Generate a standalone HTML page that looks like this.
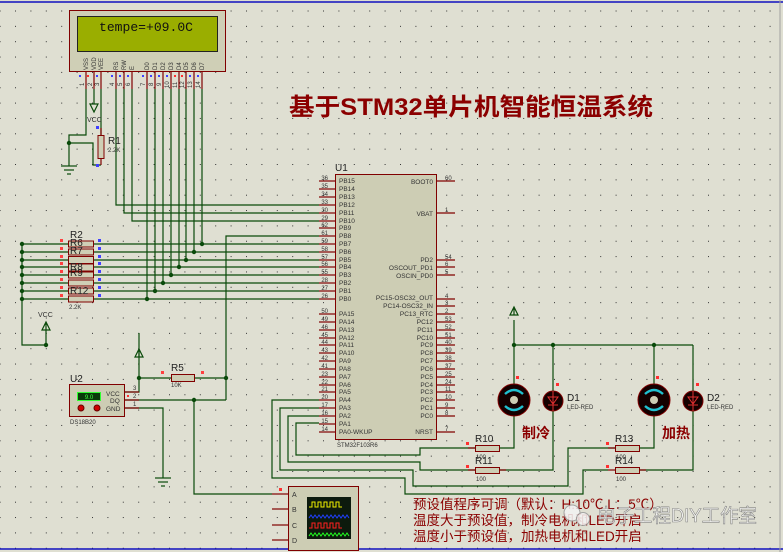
<!DOCTYPE html>
<html><head><meta charset="utf-8"><style>
html,body{margin:0;padding:0;background:#dfdfd2;}
svg{display:block;}
text{font-family:"Liberation Sans","Noto Sans CJK SC",sans-serif;}
</style></head><body>
<svg width="783" height="552" viewBox="0 0 783 552" xmlns="http://www.w3.org/2000/svg">
<defs>
<pattern id="dots" x="0" y="0" width="15.4" height="15.35" patternUnits="userSpaceOnUse" patternTransform="translate(15,10.5)">
<rect x="0" y="0" width="1" height="1" fill="#333"/>
</pattern>
</defs>
<rect width="783" height="552" fill="#dfdfd2"/>
<rect width="783" height="552" fill="url(#dots)"/>
<line x1="0" y1="2" x2="783" y2="2" stroke="#1010c0" stroke-width="1.5"/>
<line x1="0" y1="549" x2="783" y2="549" stroke="#1010c0" stroke-width="1.5"/>
<line x1="780" y1="0" x2="780" y2="552" stroke="#a0a0a0" stroke-width="1"/>

<!-- Title -->
<text x="289" y="115" font-size="24" font-weight="bold" fill="#8b0000" textLength="364" lengthAdjust="spacingAndGlyphs">基于STM32单片机智能恒温系统</text>

<!-- LCD -->
<rect x="69.5" y="10.5" width="156" height="61" fill="#cfcfb6" stroke="#800000"/>
<rect x="77.5" y="16.5" width="140" height="35" fill="#9aae00" stroke="#222"/>
<text x="99" y="31" style="font-family:'Liberation Mono',monospace" font-size="13" fill="#111" textLength="94" lengthAdjust="spacingAndGlyphs">tempe=+09.0C</text>
<g font-size="6" fill="#333" font-family="Liberation Sans,sans-serif">
<text transform="translate(88,70) rotate(-90)">VSS</text>
<text transform="translate(96,70) rotate(-90)">VDD</text>
<text transform="translate(103,70) rotate(-90)">VEE</text>
<text transform="translate(118,70) rotate(-90)">RS</text>
<text transform="translate(126,70) rotate(-90)">RW</text>
<text transform="translate(134,70) rotate(-90)">E</text>
<text transform="translate(149,70) rotate(-90)">D0</text>
<text transform="translate(157,70) rotate(-90)">D1</text>
<text transform="translate(165,70) rotate(-90)">D2</text>
<text transform="translate(173,70) rotate(-90)">D3</text>
<text transform="translate(181,70) rotate(-90)">D4</text>
<text transform="translate(188,70) rotate(-90)">D5</text>
<text transform="translate(196,70) rotate(-90)">D6</text>
<text transform="translate(204,70) rotate(-90)">D7</text>
<text transform="translate(84,86) rotate(-90)">1</text>
<text transform="translate(92,86) rotate(-90)">2</text>
<text transform="translate(99,86) rotate(-90)">3</text>
<text transform="translate(114,86) rotate(-90)">4</text>
<text transform="translate(122,86) rotate(-90)">5</text>
<text transform="translate(130,86) rotate(-90)">6</text>
<text transform="translate(145,86) rotate(-90)">7</text>
<text transform="translate(153,86) rotate(-90)">8</text>
<text transform="translate(161,86) rotate(-90)">9</text>
<text transform="translate(169,88) rotate(-90)">10</text>
<text transform="translate(177,88) rotate(-90)">11</text>
<text transform="translate(184,88) rotate(-90)">12</text>
<text transform="translate(192,88) rotate(-90)">13</text>
<text transform="translate(200,88) rotate(-90)">14</text>
</g>
<g stroke="#800000" stroke-width="1.2">
<line x1="86" y1="72" x2="86" y2="89"/><line x1="94" y1="72" x2="94" y2="89"/><line x1="101" y1="72" x2="101" y2="89"/>
<line x1="116" y1="72" x2="116" y2="89"/><line x1="124" y1="72" x2="124" y2="89"/><line x1="132" y1="72" x2="132" y2="89"/>
<line x1="147" y1="72" x2="147" y2="89"/><line x1="155" y1="72" x2="155" y2="89"/><line x1="163" y1="72" x2="163" y2="89"/>
<line x1="171" y1="72" x2="171" y2="89"/><line x1="179" y1="72" x2="179" y2="89"/><line x1="186" y1="72" x2="186" y2="89"/>
<line x1="194" y1="72" x2="194" y2="89"/><line x1="202" y1="72" x2="202" y2="89"/>
</g>
<g fill="#4040ff"><rect x="79" y="75" width="2" height="2"/><rect x="96" y="75" width="2" height="2"/><rect x="111" y="75" width="2" height="2"/><rect x="119" y="75" width="2" height="2"/><rect x="127" y="75" width="2" height="2"/><rect x="142" y="75" width="2" height="2"/><rect x="150" y="75" width="2" height="2"/><rect x="158" y="75" width="2" height="2"/><rect x="166" y="75" width="2" height="2"/><rect x="189" y="75" width="2" height="2"/><rect x="197" y="75" width="2" height="2"/></g>
<g fill="#ff3030"><rect x="87" y="75" width="2" height="2"/><rect x="174" y="75" width="2" height="2"/><rect x="181" y="75" width="2" height="2"/></g>

<!-- wires -->
<g stroke="#0a4a0a" stroke-width="1.2" fill="none">
<polyline points="86,89 86,135 69,135 69,166"/>
<polyline points="69,143 93,143 93,165 101,165"/>
<polyline points="94,89 94,104"/>
<polyline points="101,89 101,135"/>
<polyline points="116,89 116,205 319,205"/>
<polyline points="124,89 124,213 319,213"/>
<polyline points="132,89 132,221 319,221"/>
<polyline points="147,89 147,299"/>
<polyline points="155,89 155,291"/>
<polyline points="163,89 163,283"/>
<polyline points="171,89 171,275"/>
<polyline points="179,89 179,267"/>
<polyline points="186,89 186,260"/>
<polyline points="194,89 194,252"/>
<polyline points="202,89 202,244"/>
<line x1="22" y1="244" x2="319" y2="244"/>
<line x1="22" y1="252" x2="319" y2="252"/>
<line x1="22" y1="260" x2="319" y2="260"/>
<line x1="22" y1="267" x2="319" y2="267"/>
<line x1="22" y1="275" x2="319" y2="275"/>
<line x1="22" y1="283" x2="319" y2="283"/>
<line x1="22" y1="291" x2="319" y2="291"/>
<line x1="22" y1="299" x2="319" y2="299"/>
<polyline points="22,244 22,345 46,345 46,330"/>
<polyline points="319,236 226,236 226,400"/>
<polyline points="139,333 139,392 125,392"/>
<line x1="139" y1="378" x2="171" y2="378"/>
<line x1="195" y1="378" x2="226" y2="378"/>
<polyline points="125,400 226,400"/>
<polyline points="194,400 194,494 272,494"/>
<polyline points="125,408 163,408 163,478"/>
<polyline points="319,400 272,400 272,478 405,478 405,494 583,494 583,470 608,470"/>
<polyline points="319,408 280,408 280,470 413,470 413,486 568,486 568,448 615,448"/>
<polyline points="319,416 288,416 288,462 420,462 420,470 475,470"/>
<polyline points="319,423 296,423 296,455 420,455 420,448 475,448"/>
<polyline points="514,320 514,345 693,345"/>
<line x1="514" y1="345" x2="514" y2="384"/>
<line x1="553" y1="345" x2="553" y2="391"/>
<line x1="654" y1="345" x2="654" y2="384"/>
<line x1="693" y1="345" x2="693" y2="391"/>
<polyline points="499,448 514,448 514,416"/>
<polyline points="499,470 553,470 553,411"/>
<polyline points="639,448 654,448 654,416"/>
<polyline points="632,470 693,470 693,411"/>
</g>
<g fill="#0a4a0a">
<circle cx="69" cy="143" r="2.2"/>
<circle cx="22" cy="252" r="2.2"/><circle cx="22" cy="260" r="2.2"/><circle cx="22" cy="267" r="2.2"/><circle cx="22" cy="275" r="2.2"/><circle cx="22" cy="283" r="2.2"/><circle cx="22" cy="291" r="2.2"/><circle cx="22" cy="299" r="2.2"/><circle cx="22" cy="244" r="2.2"/>
<circle cx="202" cy="244" r="2.2"/><circle cx="194" cy="252" r="2.2"/><circle cx="186" cy="260" r="2.2"/><circle cx="179" cy="267" r="2.2"/><circle cx="171" cy="275" r="2.2"/><circle cx="163" cy="283" r="2.2"/><circle cx="155" cy="291" r="2.2"/><circle cx="147" cy="299" r="2.2"/>
<circle cx="46" cy="345" r="2.2"/><circle cx="139" cy="378" r="2.2"/><circle cx="226" cy="378" r="2.2"/><circle cx="194" cy="400" r="2.2"/>
<circle cx="514" cy="345" r="2.2"/><circle cx="553" cy="345" r="2.2"/><circle cx="654" cy="345" r="2.2"/>
</g>

<g stroke="#0a4a0a" stroke-width="1.2" fill="none">
<path d="M90,104 L98,104 L94,112 Z"/>
<path d="M42,330 L50,330 L46,322 Z M46,322 L46,330"/>
<path d="M135,357 L143,357 L139,349 Z M139,349 L139,357"/>
<path d="M510,315 L518,315 L514,307 Z M514,307 L514,315"/>
</g>
<g stroke="#0a4a0a" stroke-width="1.2">
<line x1="61" y1="166" x2="77" y2="166"/><line x1="64" y1="170" x2="74" y2="170"/><line x1="67" y1="174" x2="71" y2="174"/>
<line x1="155" y1="478" x2="171" y2="478"/><line x1="158" y1="482" x2="168" y2="482"/><line x1="161" y1="486" x2="165" y2="486"/>
</g>
<g font-size="7" fill="#333">
<text x="87" y="122">VCC</text>
<text x="38" y="317">VCC</text>
</g>

<line x1="101" y1="128" x2="101" y2="165" stroke="#800000" stroke-width="1.2"/>
<rect x="98" y="135.5" width="6" height="23" fill="#cfcfb6" stroke="#800000"/>
<rect x="96" y="126" width="3" height="3" fill="#4040ff"/><rect x="96" y="164" width="3" height="3" fill="#4040ff"/>
<text x="108" y="144" font-size="10" fill="#222">R1</text>
<text x="108" y="152" font-size="6" fill="#333">2.2K</text>

<g fill="#cfcfb6" stroke="#800000">
<rect x="68.5" y="241" width="25" height="6"/>
<rect x="68.5" y="249" width="25" height="6"/>
<rect x="68.5" y="256.5" width="25" height="7"/>
<rect x="68.5" y="264" width="25" height="7"/>
<rect x="68.5" y="272" width="25" height="6"/>
<rect x="68.5" y="280" width="25" height="6"/>
<rect x="68.5" y="288" width="25" height="6"/>
<rect x="68.5" y="296" width="25" height="6"/>
</g>
<g fill="#ff4040"><rect x="60" y="239" width="3" height="3"/><rect x="60" y="247" width="3" height="3"/><rect x="60" y="255" width="3" height="3"/><rect x="60" y="262" width="3" height="3"/><rect x="60" y="270" width="3" height="3"/><rect x="60" y="278" width="3" height="3"/><rect x="60" y="286" width="3" height="3"/><rect x="60" y="294" width="3" height="3"/></g>
<g fill="#4040ff"><rect x="98" y="239" width="3" height="3"/><rect x="98" y="247" width="3" height="3"/><rect x="98" y="255" width="3" height="3"/><rect x="98" y="262" width="3" height="3"/><rect x="98" y="270" width="3" height="3"/><rect x="98" y="278" width="3" height="3"/><rect x="98" y="286" width="3" height="3"/><rect x="98" y="294" width="3" height="3"/></g>
<g font-size="10" fill="#222">
<text x="70" y="238">R2</text><text x="70" y="246">R6</text><text x="70" y="254">R7</text><text x="70" y="270">R8</text><text x="70" y="276">R9</text><text x="70" y="294">R12</text>
</g>
<text x="69" y="309" font-size="6" fill="#333">2.2K</text>

<text x="335" y="171" font-size="10" fill="#222">U1</text>
<rect x="335.5" y="174.5" width="101" height="265" fill="#cdcdb4" stroke="#800000"/>
<g stroke="#800000" stroke-width="1.2">
<line x1="319" y1="181" x2="335" y2="181"/><line x1="319" y1="189" x2="335" y2="189"/><line x1="319" y1="197" x2="335" y2="197"/><line x1="319" y1="205" x2="335" y2="205"/><line x1="319" y1="213" x2="335" y2="213"/><line x1="319" y1="221" x2="335" y2="221"/><line x1="319" y1="228" x2="335" y2="228"/><line x1="319" y1="236" x2="335" y2="236"/><line x1="319" y1="244" x2="335" y2="244"/><line x1="319" y1="252" x2="335" y2="252"/><line x1="319" y1="260" x2="335" y2="260"/><line x1="319" y1="267" x2="335" y2="267"/><line x1="319" y1="275" x2="335" y2="275"/><line x1="319" y1="283" x2="335" y2="283"/><line x1="319" y1="291" x2="335" y2="291"/><line x1="319" y1="299" x2="335" y2="299"/>
<line x1="319" y1="314" x2="335" y2="314"/><line x1="319" y1="322" x2="335" y2="322"/><line x1="319" y1="330" x2="335" y2="330"/><line x1="319" y1="338" x2="335" y2="338"/><line x1="319" y1="345" x2="335" y2="345"/><line x1="319" y1="353" x2="335" y2="353"/><line x1="319" y1="361" x2="335" y2="361"/><line x1="319" y1="369" x2="335" y2="369"/><line x1="319" y1="377" x2="335" y2="377"/><line x1="319" y1="385" x2="335" y2="385"/><line x1="319" y1="392" x2="335" y2="392"/><line x1="319" y1="400" x2="335" y2="400"/><line x1="319" y1="408" x2="335" y2="408"/><line x1="319" y1="416" x2="335" y2="416"/><line x1="319" y1="424" x2="335" y2="424"/><line x1="319" y1="432" x2="335" y2="432"/>
<line x1="436" y1="181" x2="455" y2="181"/><line x1="436" y1="213" x2="455" y2="213"/><line x1="436" y1="260" x2="455" y2="260"/><line x1="436" y1="267" x2="455" y2="267"/><line x1="436" y1="275" x2="455" y2="275"/>
<line x1="436" y1="299" x2="455" y2="299"/><line x1="436" y1="306" x2="455" y2="306"/><line x1="436" y1="314" x2="455" y2="314"/><line x1="436" y1="322" x2="455" y2="322"/><line x1="436" y1="330" x2="455" y2="330"/><line x1="436" y1="338" x2="455" y2="338"/><line x1="436" y1="345" x2="455" y2="345"/><line x1="436" y1="353" x2="455" y2="353"/><line x1="436" y1="361" x2="455" y2="361"/><line x1="436" y1="369" x2="455" y2="369"/><line x1="436" y1="377" x2="455" y2="377"/><line x1="436" y1="385" x2="455" y2="385"/><line x1="436" y1="392" x2="455" y2="392"/><line x1="436" y1="400" x2="455" y2="400"/><line x1="436" y1="408" x2="455" y2="408"/><line x1="436" y1="416" x2="455" y2="416"/><line x1="436" y1="432" x2="455" y2="432"/>
</g>
<g font-size="6.5" fill="#333">
<text x="339" y="183">PB15</text><text x="339" y="191">PB14</text><text x="339" y="199">PB13</text><text x="339" y="207">PB12</text><text x="339" y="215">PB11</text><text x="339" y="223">PB10</text><text x="339" y="230">PB9</text><text x="339" y="238">PB8</text><text x="339" y="246">PB7</text><text x="339" y="254">PB6</text><text x="339" y="262">PB5</text><text x="339" y="269">PB4</text><text x="339" y="277">PB3</text><text x="339" y="285">PB2</text><text x="339" y="293">PB1</text><text x="339" y="301">PB0</text>
<text x="339" y="316">PA15</text><text x="339" y="324">PA14</text><text x="339" y="332">PA13</text><text x="339" y="340">PA12</text><text x="339" y="347">PA11</text><text x="339" y="355">PA10</text><text x="339" y="363">PA9</text><text x="339" y="371">PA8</text><text x="339" y="379">PA7</text><text x="339" y="387">PA6</text><text x="339" y="394">PA5</text><text x="339" y="402">PA4</text><text x="339" y="410">PA3</text><text x="339" y="418">PA2</text><text x="339" y="426">PA1</text><text x="339" y="434">PA0-WKUP</text>
</g>
<g font-size="6.5" fill="#333" text-anchor="end">
<text x="433" y="184">BOOT0</text><text x="433" y="216">VBAT</text><text x="433" y="262">PD2</text><text x="433" y="270">OSCOUT_PD1</text><text x="433" y="278">OSCIN_PD0</text>
<text x="433" y="300">PC15-OSC32_OUT</text><text x="433" y="308">PC14-OSC32_IN</text><text x="433" y="316">PC13_RTC</text><text x="433" y="324">PC12</text><text x="433" y="332">PC11</text><text x="433" y="340">PC10</text><text x="433" y="347">PC9</text><text x="433" y="355">PC8</text><text x="433" y="363">PC7</text><text x="433" y="371">PC6</text><text x="433" y="379">PC5</text><text x="433" y="387">PC4</text><text x="433" y="394">PC3</text><text x="433" y="402">PC2</text><text x="433" y="410">PC1</text><text x="433" y="418">PC0</text><text x="433" y="434">NRST</text>
</g>
<g font-size="6" fill="#333" text-anchor="end">
<text x="328" y="180">36</text><text x="328" y="188">35</text><text x="328" y="196">34</text><text x="328" y="204">33</text><text x="328" y="212">30</text><text x="328" y="220">29</text><text x="328" y="227">62</text><text x="328" y="235">61</text><text x="328" y="243">59</text><text x="328" y="251">58</text><text x="328" y="259">57</text><text x="328" y="266">56</text><text x="328" y="274">55</text><text x="328" y="282">28</text><text x="328" y="290">27</text><text x="328" y="298">26</text>
<text x="328" y="313">50</text><text x="328" y="321">49</text><text x="328" y="329">46</text><text x="328" y="337">45</text><text x="328" y="344">44</text><text x="328" y="352">43</text><text x="328" y="360">42</text><text x="328" y="368">41</text><text x="328" y="376">23</text><text x="328" y="384">22</text><text x="328" y="391">21</text><text x="328" y="399">20</text><text x="328" y="407">17</text><text x="328" y="415">16</text><text x="328" y="423">15</text><text x="328" y="431">14</text>
</g>
<g font-size="6" fill="#333">
<text x="445" y="180">60</text><text x="445" y="212">1</text><text x="445" y="259">54</text><text x="445" y="266">6</text><text x="445" y="274">5</text><text x="445" y="298">4</text><text x="445" y="305">3</text><text x="445" y="313">2</text><text x="445" y="321">53</text><text x="445" y="329">52</text><text x="445" y="337">51</text><text x="445" y="344">40</text><text x="445" y="352">39</text><text x="445" y="360">38</text><text x="445" y="368">37</text><text x="445" y="376">25</text><text x="445" y="384">24</text><text x="445" y="391">11</text><text x="445" y="399">10</text><text x="445" y="407">9</text><text x="445" y="415">8</text><text x="445" y="431">7</text>
</g>
<text x="337" y="447" font-size="6" fill="#333">STM32F103R6</text>

<text x="70" y="382" font-size="10" fill="#222">U2</text>
<rect x="69.5" y="384.5" width="55" height="32" fill="#cdcdb4" stroke="#800000"/>
<rect x="77.5" y="392.5" width="23" height="8" fill="#0a3a0a" stroke="#30ff30"/>
<text x="89" y="399" font-size="6" fill="#40ff40" text-anchor="middle">9.0</text>
<circle cx="81" cy="408" r="3" fill="#d00000" stroke="#600"/><circle cx="97" cy="408" r="3" fill="#d00000" stroke="#600"/>
<g font-size="6.5" fill="#333"><text x="106" y="396">VCC</text><text x="110" y="403">DQ</text><text x="106" y="411">GND</text></g>
<g stroke="#800000" stroke-width="1.2"><line x1="125" y1="392" x2="139" y2="392"/><line x1="125" y1="400" x2="139" y2="400"/><line x1="125" y1="408" x2="139" y2="408"/></g>
<g font-size="6" fill="#333"><text x="133" y="390">3</text><text x="133" y="398">2</text><text x="133" y="406">1</text></g>
<rect x="127" y="395" width="2" height="2" fill="#ff3030"/>
<text x="70" y="424" font-size="6" fill="#333">DS18B20</text>

<rect x="171.5" y="374.5" width="23" height="7" fill="#cdcdb4" stroke="#800000"/>
<rect x="161" y="371" width="3" height="3" fill="#ff4040"/><rect x="201" y="371" width="3" height="3" fill="#ff4040"/>
<text x="171" y="371" font-size="10" fill="#222">R5</text>
<text x="171" y="387" font-size="6" fill="#333">10K</text>

<g>
<circle cx="514" cy="400" r="16" fill="#150000" stroke="#800000"/>
<path d="M505,394 Q514,386 523,394" stroke="#20c0d0" stroke-width="2.5" fill="none"/>
<path d="M505,406 Q514,414 523,406" stroke="#20c0d0" stroke-width="2.5" fill="none"/>
<circle cx="514" cy="400" r="4" fill="#cdcdb4"/>
<circle cx="654" cy="400" r="16" fill="#150000" stroke="#800000"/>
<path d="M645,394 Q654,386 663,394" stroke="#20c0d0" stroke-width="2.5" fill="none"/>
<path d="M645,406 Q654,414 663,406" stroke="#20c0d0" stroke-width="2.5" fill="none"/>
<circle cx="654" cy="400" r="4" fill="#cdcdb4"/>
<circle cx="553" cy="401" r="10" fill="#150000" stroke="#800000"/>
<path d="M548,397 L558,397 L553,404 Z M548,405 L558,405 M553,391 L553,411" stroke="#e03030" fill="none"/>
<circle cx="693" cy="401" r="10" fill="#150000" stroke="#800000"/>
<path d="M688,397 L698,397 L693,404 Z M688,405 L698,405 M693,391 L693,411" stroke="#e03030" fill="none"/>
</g>
<g fill="#ff3030"><rect x="516" y="376" width="3" height="3"/><rect x="556" y="383" width="3" height="3"/><rect x="656" y="376" width="3" height="3"/><rect x="696" y="383" width="3" height="3"/></g>
<g fill="#222"><text x="567" y="401" font-size="10">D1</text><text x="707" y="401" font-size="10">D2</text></g>
<g fill="#333" font-size="6"><text x="567" y="409">LED-RED</text><text x="707" y="409">LED-RED</text></g>
<text x="522" y="438" font-size="14" font-weight="bold" fill="#8b0000">制冷</text>
<text x="662" y="438" font-size="14" font-weight="bold" fill="#8b0000">加热</text>

<g fill="#cdcdb4" stroke="#800000">
<rect x="475.5" y="445.5" width="24" height="6"/>
<rect x="475.5" y="467.5" width="24" height="6"/>
<rect x="615.5" y="445.5" width="24" height="6"/>
<rect x="615.5" y="467.5" width="24" height="6"/>
</g>
<g stroke="#800000" stroke-width="1.2"><line x1="468" y1="448" x2="475" y2="448"/><line x1="468" y1="470" x2="475" y2="470"/><line x1="608" y1="448" x2="615" y2="448"/><line x1="608" y1="470" x2="615" y2="470"/><line x1="499" y1="470" x2="506" y2="470"/><line x1="639" y1="470" x2="646" y2="470"/></g>
<g fill="#ff3030"><rect x="466" y="442" width="3" height="3"/><rect x="466" y="465" width="3" height="3"/><rect x="606" y="442" width="3" height="3"/><rect x="606" y="465" width="3" height="3"/></g>
<g font-size="10" fill="#222"><text x="475" y="442">R10</text><text x="475" y="464">R11</text><text x="615" y="442">R13</text><text x="615" y="464">R14</text></g>
<g font-size="6" fill="#333"><text x="476" y="459">100</text><text x="476" y="481">100</text><text x="616" y="459">100</text><text x="616" y="481">100</text></g>

<rect x="288.5" y="486.5" width="70" height="64" fill="#cdcdb4" stroke="#800000"/>
<rect x="307" y="497" width="44" height="42" fill="#0d1a0d"/>
<path d="M309,507 h3 v-5 h3 v5 h3 v-5 h3 v5 h3 v-5 h3 v5 h3 v-5 h3 v5 h3 v-5 h3 v5 h3" stroke="#f0f000" fill="none"/>
<path d="M309,518 l2,-3 l2,3 l2,-3 l2,3 l2,-3 l2,3 l2,-3 l2,3 l2,-3 l2,3 l2,-3 l2,3 l2,-3 l2,3 l2,-3 l2,3 l2,-3 l2,3 l2,-3 l2,3" stroke="#2040ff" fill="none"/>
<path d="M309,528 h3 v-5 h3 v5 h3 v-5 h3 v5 h3 v-5 h3 v5 h3 v-5 h3 v5 h3 v-5 h3 v5 h3" stroke="#ff2020" fill="none"/>
<path d="M309,536 l2,-3 l2,3 l2,-3 l2,3 l2,-3 l2,3 l2,-3 l2,3 l2,-3 l2,3 l2,-3 l2,3 l2,-3 l2,3 l2,-3 l2,3 l2,-3 l2,3 l2,-3 l2,3" stroke="#20ff20" fill="none"/>
<g stroke="#800000" stroke-width="1.2"><line x1="272" y1="494" x2="288" y2="494"/><line x1="272" y1="509" x2="288" y2="509"/><line x1="272" y1="525" x2="288" y2="525"/><line x1="272" y1="540" x2="288" y2="540"/></g>
<rect x="279" y="488" width="3" height="3" fill="#ff3030"/>
<g font-size="7" fill="#333"><text x="292" y="497">A</text><text x="292" y="512">B</text><text x="292" y="528">C</text><text x="292" y="543">D</text></g>

<g font-size="13.5" fill="#8b0000" font-family="Liberation Sans,'Noto Sans CJK SC',sans-serif">
<text x="413" y="509">预设值程序可调（默认：H:10℃  L：5℃）</text>
<text x="413" y="525">温度大于预设值，制冷电机和LED开启</text>
<text x="413" y="541">温度小于预设值，加热电机和LED开启</text>
</g>
<g opacity="0.85">
<circle cx="572" cy="513" r="8" fill="#f4f4f4" stroke="#999"/>
<circle cx="583" cy="519" r="6.5" fill="#f4f4f4" stroke="#999"/>
<text x="597" y="522" font-size="19" fill="#f8f8f8" stroke="#777" stroke-width="0.6" textLength="160" lengthAdjust="spacingAndGlyphs">电子工程DIY工作室</text>
</g>
</svg>
</body></html>
